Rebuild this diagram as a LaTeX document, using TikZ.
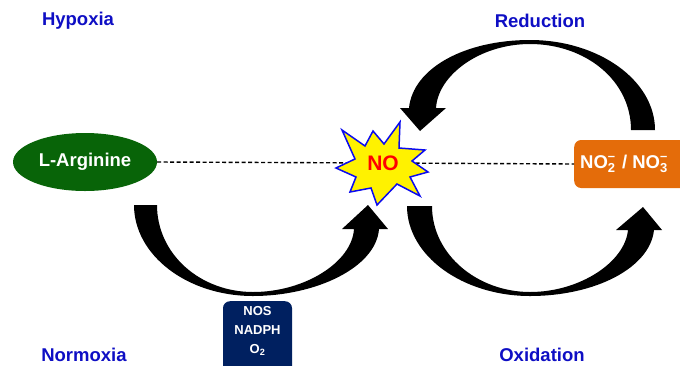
\documentclass[tikz,border=0pt]{standalone}
\usepackage{fontspec}
\setmainfont{Liberation Sans}
\usetikzlibrary{shapes.geometric}
\definecolor{lblblue}{RGB}{14,14,196}
\definecolor{darkgreen}{RGB}{8,100,8}
\definecolor{orangebox}{RGB}{228,108,10}
\definecolor{navy}{RGB}{0,32,96}
\definecolor{starblue}{RGB}{10,10,240}
\tikzset{
  lbl/.style={text=lblblue, font=\bfseries\fontsize{18.5}{20}\selectfont},
  whitetxt/.style={text=white, font=\bfseries\fontsize{18.5}{20}\selectfont},
  curvarrow/.style={fill=black},
  dashline/.style={line width=1.4pt, dash pattern=on 4pt off 2.5pt},
  starshape/.style={fill=yellow, draw=starblue, line width=1.5pt, line join=miter},
}
\newcommand{\subsup}[1]{\rlap{\raisebox{-4pt}{\fontsize{13}{13}\selectfont #1}}\raisebox{8pt}{\fontsize{13}{13}\selectfont –}}
\begin{document}
\begin{tikzpicture}[x=1pt,y=-1pt]
\useasboundingbox (0,0) rectangle (680,365);
\clip (0,0) rectangle (680,365);

% labels
\node[lbl] (hyp) at (78,21) {Hypoxia};
\node[lbl] (red) at (540,21) {Reduction};
\node[lbl] (nor) at (84,355) {Normoxia};
\node[lbl] (oxi) at (542,355) {Oxidation};

% nodes
\node[ellipse, fill=darkgreen, minimum width=144pt, minimum height=58pt, whitetxt] (arg) at (85,162) {L-Arginine};
\node[fill=orangebox, rounded corners=7pt, minimum height=48pt, minimum width=126pt,
      anchor=west, text width=118pt, align=left, inner xsep=4pt, whitetxt] (nox) at (574,164)
      {\hspace{2pt}NO\subsup{2}\hspace{7pt}/\hspace{5pt}NO\subsup{3}};
\coordinate (noc) at (383,163);

% dashed connectors
\draw[dashline] (arg.east) -- (noc);
\draw[dashline] (noc) -- (nox.west);

% star
\filldraw[starshape] (342,130) -- (365,146) -- (373,131) -- (384,144) -- (400,122) -- (399,148)
  -- (425,150) -- (412,161) -- (428,172) -- (410,177) -- (420,196) -- (397,184)
  -- (377,205) -- (371,188) -- (350,192) -- (356,177) -- (336,168) -- (355,159) -- cycle;
\node[text=red, font=\bfseries\fontsize{21}{22}\selectfont] (no) at (noc) {NO};

% curved arrows
\fill[curvarrow] (134,205) -- (157,205) .. controls (157,254) and (200,292) .. (253,292)
  .. controls (305,292) and (352,262) .. (354,229) -- (342,229) -- (368,205) -- (388,229) -- (379,229)
  .. controls (376,268) and (315,296) .. (253,296) .. controls (187,296) and (134,255) .. (134,205) -- cycle;
\fill[curvarrow] (407,206) -- (432,206) .. controls (432,255) and (478,292) .. (530,292)
  .. controls (580,292) and (625,262) .. (628,230) -- (616,230) -- (643,207) -- (662,230) -- (654,230)
  .. controls (650,268) and (595,296) .. (530,296) .. controls (463,296) and (407,256) .. (407,206) -- cycle;
\fill[curvarrow] (655,130) -- (631,130) .. controls (631,80) and (585,44) .. (530,44)
  .. controls (480,44) and (438,75) .. (436,108) -- (446,108) -- (420,131) -- (400,108) -- (409,108)
  .. controls (413,68) and (465,40) .. (530,40) .. controls (598,40) and (655,80) .. (655,130) -- cycle;

% enzyme box
\node[fill=navy, rounded corners=7pt, anchor=north, minimum width=69pt, align=center,
      inner ysep=5pt, text=white, font=\bfseries\fontsize{13}{19}\selectfont] (nos) at (257.5,301)
      {NOS\\NADPH\\O\textsubscript{2}\\[2pt]};
\end{tikzpicture}
\end{document}
